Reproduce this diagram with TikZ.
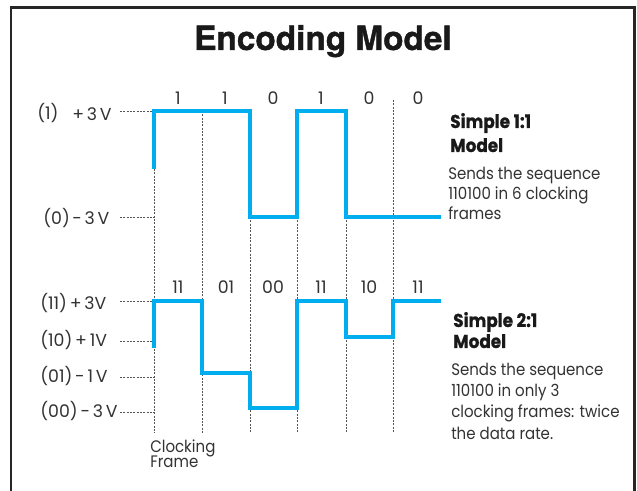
\documentclass[tikz,border=0pt]{standalone}
\usepackage{fontspec}
\setmainfont{Poppins}[FakeStretch=0.9,BoldFeatures={FakeBold=0.8}]
\newfontfamily\lblfont{Poppins}[WordSpace=0.6]
\newfontfamily\titlefont{TeX Gyre Heros}[BoldFeatures={FakeBold=1.2}]
\definecolor{sig}{HTML}{00AEEF}
\definecolor{ink}{HTML}{333333}
\definecolor{dots}{HTML}{555555}
\begin{document}
\begin{tikzpicture}[x=0.75pt,y=-0.75pt,
  lbl/.style={inner sep=0pt,text=ink,font=\lblfont\fontsize{13}{15}\selectfont},
  body/.style={inner sep=0pt,text=ink,anchor=base west,font=\fontsize{12.5}{15}\selectfont},
  head/.style={inner sep=0pt,text=black!90,anchor=base west,font=\bfseries\fontsize{14}{16}\selectfont},
  clk/.style={draw=dots,line width=0.6pt,dash pattern=on 1.5pt off 1pt},
  wave/.style={draw=sig,line width=3pt,line join=miter},
  frameline/.style={draw=black!85,line width=1.9pt}]
\useasboundingbox (0,0) rectangle (637,491);
\fill[white] (0,0) rectangle (637,491);
% border
\draw[frameline] (11,491) -- (11,7.5) -- (634.5,7.5) -- (634.5,491);
% title
\node[inner sep=0pt,anchor=base,font=\titlefont\bfseries\fontsize{25}{28}\selectfont,text=black!90] (title) at (323,50) {Encoding Model};

% clock lines
\draw[clk] (154,169) -- (154,433);
\draw[clk] (202,111) -- (202,433);
\draw[clk] (250,217) -- (250,433);
\draw[clk] (297,217) -- (297,433);
\draw[clk] (346,217) -- (346,433);
\draw[clk] (393,100) -- (393,433);

% level leaders
\foreach \n/\y in {a/111,b/217,c/301,d/341,e/377,f/412}{
  \coordinate (l\n) at (120,\y);
  \coordinate (r\n) at (154,\y);
  \draw[clk] (l\n) -- (r\n);
}

% top waveform
\draw[wave] (154,169) -- (154,111) -- (250,111) -- (250,217) -- (297,217) -- (297,111) -- (346,111) -- (346,217) -- (441,217);
% bottom waveform
\draw[wave] (154,348) -- (154,301) -- (202,301) -- (202,373) -- (250,373) -- (250,408) -- (297,408) -- (297,301) -- (346,301) -- (346,337) -- (393,337) -- (393,301) -- (441,301);

% top bit labels
\foreach \i/\x/\t in {1/178/1,2/225/1,3/273/0,4/321/1,5/369/0,6/418/0}{
  \node[lbl,anchor=base] (tb\i) at (\x,105) {\t};
}
% bottom symbol labels
\foreach \i/\x/\t in {1/178/11,2/226/01,3/273/00,4/321/11,5/369/10,6/418/11}{
  \node[lbl,anchor=base] (bb\i) at (\x,294) {\t};
}

% left level labels (top)
\node[lbl,anchor=base west] (one) at (37,120) {(1)};
\node[lbl,anchor=base west] (p3) at (72,121) {+ 3 V};
\node[lbl,anchor=base west] (zero) at (43,225) {(0)};
\node[lbl,anchor=base west] (m3) at (72,225) {- 3 V};
% left level labels (bottom)
\node[lbl,anchor=base west] (q11) at (40,310) {(11) + 3V};
\node[lbl,anchor=base west] (q10) at (40,347) {(10) + 1V};
\node[lbl,anchor=base west] (q01) at (40,383) {(01) - 1 V};
\node[lbl,anchor=base west] (q00) at (40,418) {(00) - 3 V};

\node[body] (clock1) at (150,453) {Clocking};
\node[body] (clock2) at (150,468) {Frame};

% right text, top
\node[head] (h1a) at (450,128) {Simple 1:1};
\node[head] (h1b) at (450,152) {Model};
\node[body] (t1a) at (448,180) {Sends the sequence};
\node[body] (t1b) at (448,200) {110100 in 6 clocking};
\node[body] (t1c) at (448,220) {frames};
% right text, bottom
\node[head] (h2a) at (453,327) {Simple 2:1};
\node[head] (h2b) at (453,348) {Model};
\node[body] (t2a) at (451,376) {Sends the sequence};
\node[body] (t2b) at (451,397) {110100 in only 3};
\node[body] (t2c) at (451,418) {clocking frames: twice};
\node[body] (t2d) at (451,440) {the data rate.};
\end{tikzpicture}
\end{document}
